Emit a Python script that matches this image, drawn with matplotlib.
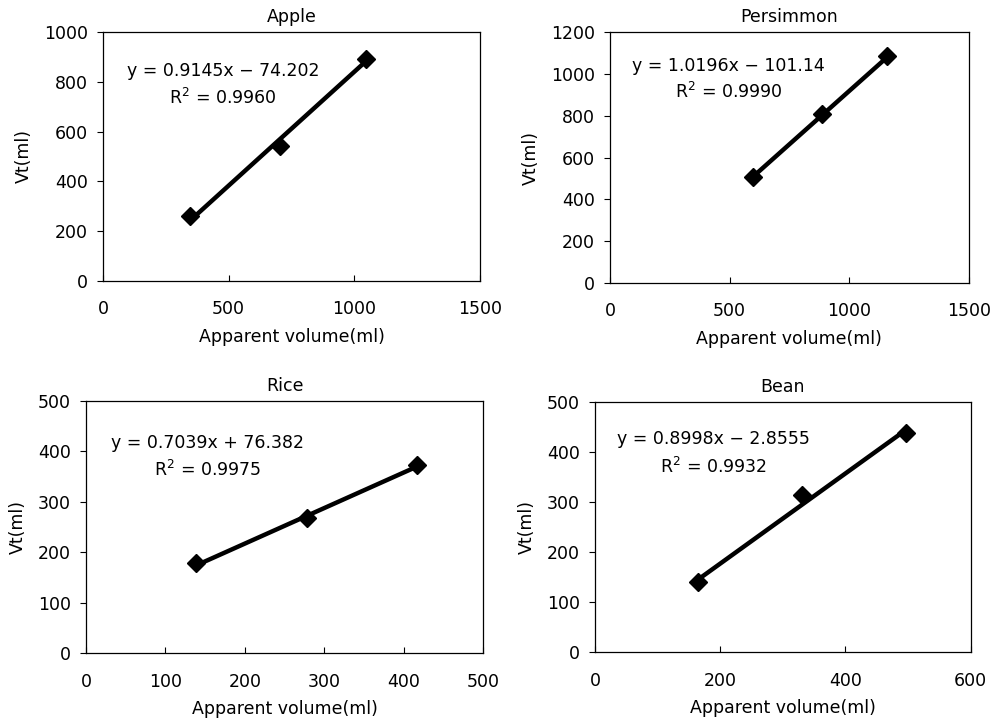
import matplotlib
matplotlib.use("Agg")
import matplotlib.pyplot as plt
import numpy as np

plt.rcParams['font.family'] = ['DejaVu Sans']
plt.rcParams['mathtext.fontset'] = 'dejavusans'

# Measured samples: apparent volume (ml) vs true volume Vt (ml)
apple_x = [346, 704, 1045]
apple_y = [261, 543, 890]
persimmon_x = [596, 885, 1159]
persimmon_y = [508, 806, 1085]
rice_x = [139, 278, 416]
rice_y = [178, 267, 373]
bean_x = [165, 330, 496]
bean_y = [141, 314, 438]

# Linear trendline coefficients (slope, intercept) and R^2
apple_fit = (0.9145, -74.202, 0.9960)
persimmon_fit = (1.0196, -101.14, 0.9990)
rice_fit = (0.7039, 76.382, 0.9975)
bean_fit = (0.8998, -2.8555, 0.9932)

titles = ["Apple", "Persimmon", "Rice", "Bean"]
eq_labels = ["y = 0.9145x − 74.202", "y = 1.0196x − 101.14",
             "y = 0.7039x + 76.382", "y = 0.8998x − 2.8555"]
r2_labels = ["R$^2$ = 0.9960", "R$^2$ = 0.9990",
             "R$^2$ = 0.9975", "R$^2$ = 0.9932"]

x_ticks = [[0, 500, 1000, 1500], [0, 500, 1000, 1500],
           [0, 100, 200, 300, 400, 500], [0, 200, 400, 600]]
y_ticks = [[0, 200, 400, 600, 800, 1000], [0, 200, 400, 600, 800, 1000, 1200],
           [0, 100, 200, 300, 400, 500], [0, 100, 200, 300, 400, 500]]

datasets = [(apple_x, apple_y, apple_fit), (persimmon_x, persimmon_y, persimmon_fit),
            (rice_x, rice_y, rice_fit), (bean_x, bean_y, bean_fit)]

axes_rects = [
    [0.1035, 0.6108, 0.379, 0.345],
    [0.613, 0.608, 0.3608, 0.3476],
    [0.0864, 0.0952, 0.3993, 0.3498],
    [0.598, 0.0965, 0.3776, 0.347],
]
text_pos = [(0.318, 0.843, 0.735), (0.33, 0.866, 0.762),
            (0.306, 0.831, 0.726), (0.315, 0.85, 0.741)]

fig = plt.figure(figsize=(9.95, 7.22), dpi=100)

for i, ((xs, ys, fit), rect) in enumerate(zip(datasets, axes_rects)):
    ax = fig.add_axes(rect)
    slope, intercept, r2 = fit
    xl = np.array([min(xs), max(xs)])
    ax.plot(xl, slope * xl + intercept, color='black', lw=3.2, solid_capstyle='butt', zorder=2)
    ax.plot(xs, ys, linestyle='none', marker='D', markersize=9,
            color='black', zorder=3)

    ax.set_xlim(x_ticks[i][0], x_ticks[i][-1])
    ax.set_ylim(y_ticks[i][0], y_ticks[i][-1])
    ax.set_xticks(x_ticks[i])
    ax.set_yticks(y_ticks[i])
    ax.tick_params(axis='x', direction='in', length=4, width=0.8, pad=14, labelsize=12.5)
    ax.tick_params(axis='y', direction='out', length=4, width=0.8, pad=7, labelsize=12.5)
    for sp in ax.spines.values():
        sp.set_linewidth(0.9)
        sp.set_color('black')

    ax.set_title(titles[i], fontsize=12.5, pad=7)
    ax.set_xlabel("Apparent volume(ml)", fontsize=12.5, labelpad=7)
    ax.set_ylabel("Vt(ml)", fontsize=12.5, labelpad=8)

    tx, ty1, ty2 = text_pos[i]
    ax.text(tx, ty1, eq_labels[i], transform=ax.transAxes, ha='center', va='center', fontsize=12.5)
    ax.text(tx, ty2, r2_labels[i], transform=ax.transAxes, ha='center', va='center', fontsize=12.5)

fig.savefig("out.png", dpi=100, facecolor='white')
